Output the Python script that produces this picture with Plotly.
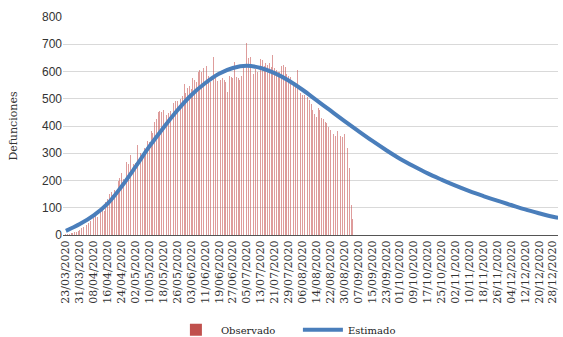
import pandas as pd
import plotly.graph_objects as go

start_date = "2020-03-23"

# Observed daily deaths (Observado), one value per day from 23/03/2020
observado = [
    3, 5, 4, 7, 9, 12, 10, 16, 20, 24,
    30, 28, 35, 45, 52, 48, 62, 70, 65, 82,
    95, 90, 88, 120, 132, 150, 158, 145, 165, 160,
    198, 210, 228, 205, 212, 268, 262, 295, 270, 260,
    265, 330, 310, 300, 285, 320, 298, 345, 340, 380,
    375, 415, 425, 450, 455, 452, 460, 458, 440, 448,
    455, 430, 485, 490, 492, 505, 498, 510, 555, 520,
    540, 548, 535, 575, 570, 560, 600, 605, 598, 612,
    590, 620, 585, 560, 610, 653, 580, 565, 557, 569,
    575, 568, 563, 525, 582, 580, 578, 635, 580, 575,
    570, 585, 620, 640, 705, 650, 655, 620, 590, 610,
    600, 640, 645, 642, 620, 630, 625, 630, 615, 660,
    612, 605, 598, 600, 620, 625, 615, 590, 585, 580,
    570, 560, 555, 605, 532, 520, 514, 515, 510, 507,
    495, 480, 459, 445, 433, 466, 460, 430, 425, 415,
    411, 395, 385, 380, 372, 365, 380, 370, 362, 360,
    372, 355, 320, 245, 110, 60,
]

# Estimated curve (Estimado), read every 8 days from 23/03/2020 to 28/12/2020, plus 31/12/2020
estimado_fechas = [
    "2020-03-23", "2020-03-31", "2020-04-08", "2020-04-16", "2020-04-24", "2020-05-02",
    "2020-05-10", "2020-05-18", "2020-05-26", "2020-06-03", "2020-06-11", "2020-06-19",
    "2020-06-27", "2020-07-05", "2020-07-13", "2020-07-21", "2020-07-29", "2020-08-06",
    "2020-08-14", "2020-08-22", "2020-08-30", "2020-09-07", "2020-09-15", "2020-09-23",
    "2020-10-01", "2020-10-09", "2020-10-17", "2020-10-25", "2020-11-02", "2020-11-10",
    "2020-11-18", "2020-11-26", "2020-12-04", "2020-12-12", "2020-12-20", "2020-12-28",
    "2020-12-31",
]
estimado = [
    15, 40, 72, 115, 178, 250,
    325, 393, 457, 513, 557, 592,
    613, 621, 613, 594, 567, 533,
    495, 457, 419, 382, 346, 312,
    280, 252, 226, 203, 181, 161,
    143, 126, 110, 94, 80, 67,
    63,
]

y_ticks = [0, 100, 200, 300, 400, 500, 600, 700, 800]

fechas_obs = pd.date_range(start_date, periods=len(observado), freq="D")

fig = go.Figure()
fig.add_trace(go.Bar(
    x=fechas_obs, y=observado, name="Observado", showlegend=False,
    marker=dict(color="rgba(200,90,88,0.6)", line=dict(width=0)),
    width=0.5 * 86400000,
))
# legend entry for the bars (solid colour as in the reference legend)
fig.add_trace(go.Bar(
    x=[None], y=[None], name="Observado", showlegend=True,
    marker=dict(color="#C0504D", line=dict(width=0)),
))
fig.add_trace(go.Scatter(
    x=pd.to_datetime(estimado_fechas), y=estimado, name="Estimado",
    mode="lines", line=dict(color="#4A7EBB", width=4, shape="spline", smoothing=1.0),
))

fig.update_layout(
    width=563, height=337,
    margin=dict(l=63, r=5, t=17, b=102, autoexpand=False),
    paper_bgcolor="white", plot_bgcolor="white",
    showlegend=True,
    legend=dict(orientation="h", x=0.218, xanchor="left", y=-0.435, yanchor="middle",
                font=dict(family="DejaVu Serif", size=10, color="#222"),
                itemwidth=40, entrywidth=72),
    bargap=0, barmode="overlay",
)
fig.update_xaxes(
    type="date", automargin=False,
    range=["2020-03-21 08:00", "2020-12-30 22:00"],
    tick0=start_date, dtick=8 * 86400000,
    tickformat="%d/%m/%Y", tickangle=-90,
    tickfont=dict(family="DejaVu Serif", size=11, color="#333"),
    showgrid=False, showline=True, linecolor="#555", linewidth=1,
    ticks="", zeroline=False,
)
fig.update_yaxes(
    range=[0, 800], tickvals=y_ticks, automargin=False,
    tickfont=dict(family="Liberation Sans", size=12, color="#333"),
    showgrid=True, gridcolor="#D9D9D9", gridwidth=1,
    zeroline=False, showline=False, ticks="",
    title=dict(text="Defunciones", font=dict(family="DejaVu Serif", size=11, color="#333"), standoff=22),
)

fig.write_html(
    "out.html",
    config={"displayModeBar": False},
    post_script="document.body.style.margin='0';document.body.style.overflow='hidden';",
)
